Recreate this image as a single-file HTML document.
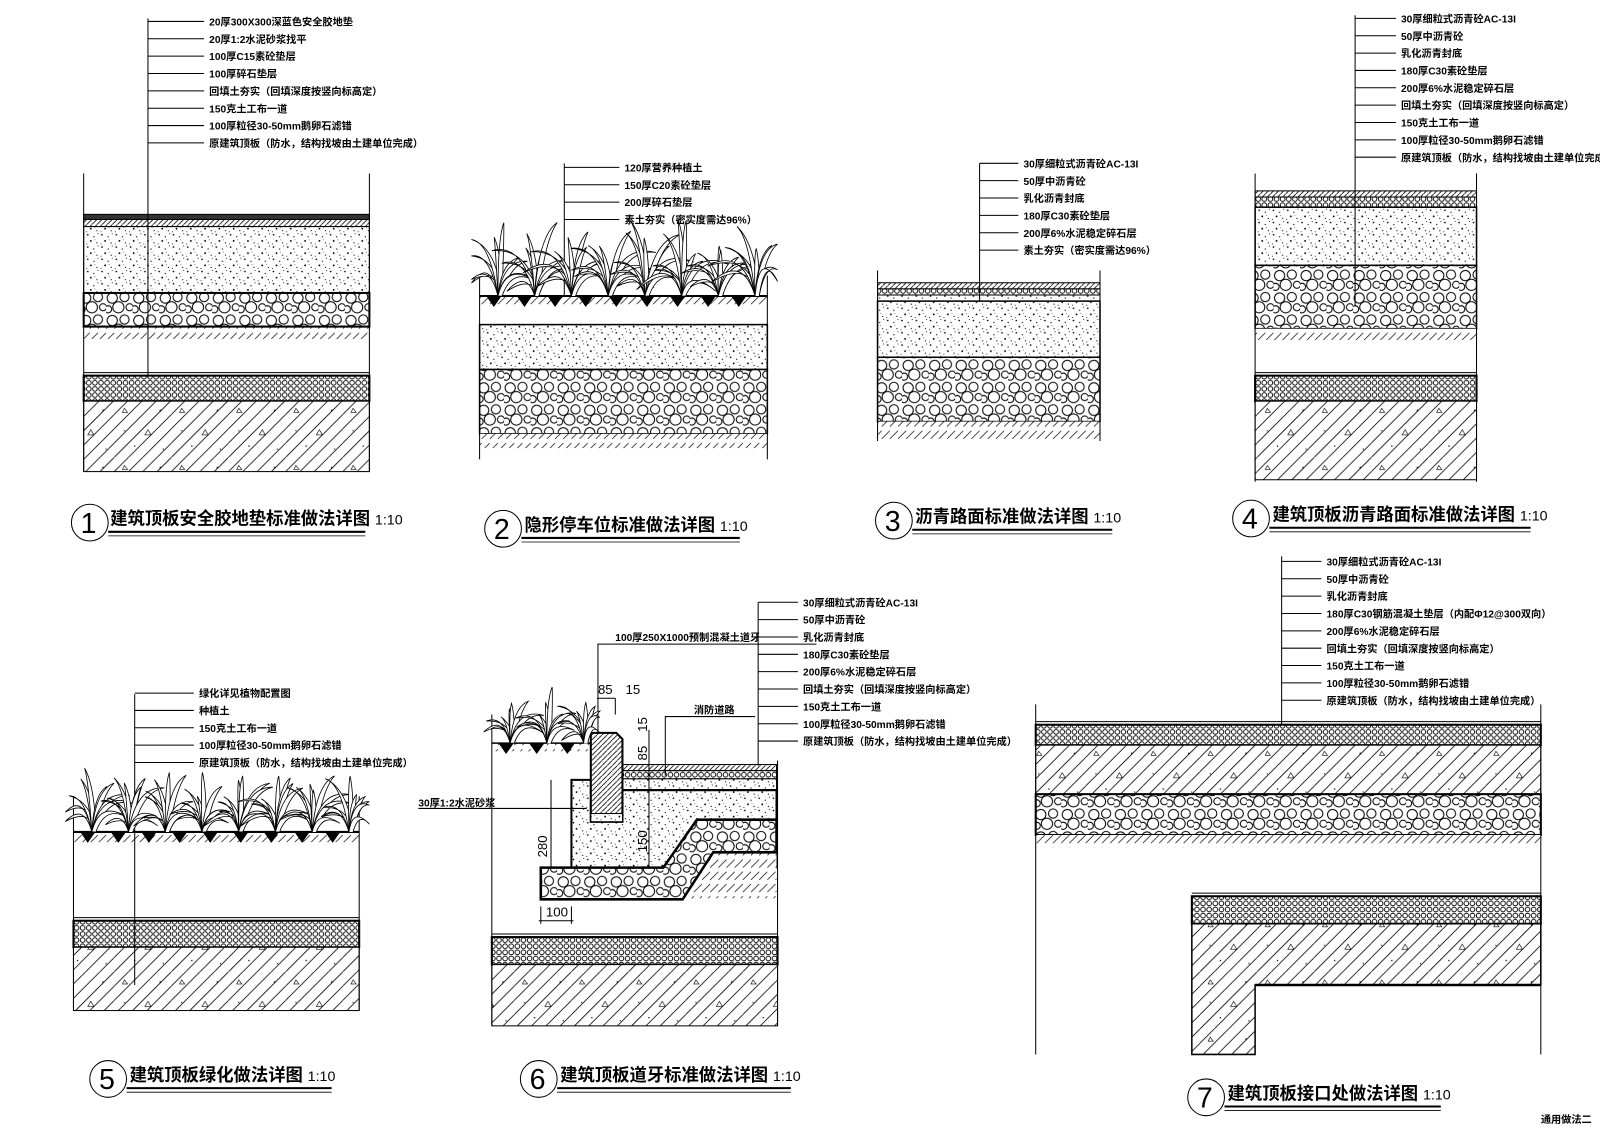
<!DOCTYPE html>
<html><head><meta charset="utf-8"><style>
html,body{margin:0;padding:0;background:#fff;}
svg{display:block}
text{font-family:"Liberation Sans","Noto Sans CJK SC",sans-serif;fill:#000}
.l{font-size:10px;font-weight:bold}
.t{font-size:17px;font-weight:bold}
.s{font-size:13px}
</style></head><body>
<svg id="S" width="1600" height="1131" viewBox="0 0 1568 1108" preserveAspectRatio="none" xmlns="http://www.w3.org/2000/svg">
<defs>
<pattern id="stip" width="14" height="12" patternUnits="userSpaceOnUse">
<rect width="14" height="12" fill="#fff"/>
<circle cx="2" cy="2" r="0.8"/><circle cx="8" cy="4" r="0.6"/><circle cx="5" cy="8" r="0.9"/><circle cx="11" cy="10" r="0.6"/><circle cx="12" cy="1" r="0.5"/><circle cx="1" cy="11" r="0.5"/><circle cx="9" cy="7" r="0.4"/>
</pattern>
<pattern id="grav" width="26" height="22" patternUnits="userSpaceOnUse">
<rect width="26" height="22" fill="#fff"/>
<g fill="none" stroke="#000" stroke-width="1">
<circle cx="6" cy="6" r="5"/><circle cx="18" cy="5" r="4.5"/><circle cx="12" cy="15" r="5.5"/><circle cx="23" cy="15" r="3.5"/><circle cx="2" cy="17" r="3.5"/></g>
</pattern>
<pattern id="cross" width="6" height="6" patternUnits="userSpaceOnUse">
<rect width="6" height="6" fill="#fff"/><circle cx="3" cy="3" r="2.3" fill="none" stroke="#000" stroke-width="0.9"/>
</pattern>
<pattern id="hatch" width="56" height="56" patternUnits="userSpaceOnUse">
<rect width="56" height="56" fill="#fff"/>
<path d="M0 14L14 0M0 28L28 0M0 42L42 0M0 56L56 0M14 56L56 14M28 56L56 28M42 56L56 42" stroke="#000" stroke-width="0.8"/>
<path d="M30 34l3 -5l3 5z" fill="none" stroke="#000" stroke-width="0.6"/>
<path d="M8 12l2 -4l3 4z" fill="none" stroke="#000" stroke-width="0.6"/>
<circle cx="20" cy="45" r="0.7"/><circle cx="45" cy="10" r="0.7"/><circle cx="10" cy="30" r="0.6"/><circle cx="48" cy="48" r="0.6"/>
</pattern>
<pattern id="dhatch" width="5" height="5" patternUnits="userSpaceOnUse">
<rect width="5" height="5" fill="#fff"/><path d="M0 5L5 0" stroke="#000" stroke-width="0.8"/>
</pattern>
<pattern id="soil" width="16" height="12" patternUnits="userSpaceOnUse">
<rect width="16" height="12" fill="#fff"/><path d="M0 10L8 2M8 10L16 2" stroke="#000" stroke-width="0.7"/>
</pattern>
</defs>
<g stroke="#000" fill="none" stroke-width="1">

<!-- DETAIL 1 -->
<rect x="82" y="210" width="280" height="5" fill="#333"/>
<rect x="82" y="215" width="280" height="7" fill="url(#dhatch)"/>
<rect x="82" y="222" width="280" height="65" fill="url(#stip)"/>
<rect x="82" y="287" width="280" height="33" fill="url(#grav)" stroke-width="2"/>
<rect x="82" y="320" width="280" height="12" fill="url(#soil)" stroke="none"/>
<line x1="82" y1="320" x2="362" y2="320" stroke-width="2"/>
<line x1="82" y1="365" x2="362" y2="365"/>
<rect x="82" y="368" width="280" height="25" fill="url(#cross)" stroke-width="2"/>
<rect x="82" y="393" width="280" height="69" fill="url(#hatch)"/>
<line x1="82" y1="170" x2="82" y2="462"/><line x1="362" y1="170" x2="362" y2="462"/>
<line x1="145" y1="18" x2="145" y2="370"/>

<!-- DETAIL 2 -->
<rect x="470" y="290" width="282" height="10" fill="url(#soil)" stroke="none"/>
<line x1="470" y1="290" x2="752" y2="290" stroke-width="2"/>
<rect x="470" y="318" width="282" height="44" fill="url(#stip)" stroke-width="1.5"/>
<rect x="470" y="362" width="282" height="63" fill="url(#grav)" stroke-width="1.5"/>
<rect x="470" y="425" width="282" height="14" fill="url(#soil)" stroke="none"/>
<line x1="470" y1="270" x2="470" y2="450"/><line x1="752" y1="270" x2="752" y2="450"/>
<line x1="553" y1="160" x2="553" y2="290"/>

<!-- DETAIL 3 -->
<rect x="860" y="277" width="218" height="6" fill="url(#dhatch)"/>
<rect x="860" y="283" width="218" height="6" fill="url(#cross)"/>
<rect x="860" y="289" width="218" height="6" fill="url(#stip)"/>
<rect x="860" y="295" width="218" height="55" fill="url(#stip)" stroke-width="1.5"/>
<rect x="860" y="350" width="218" height="63" fill="url(#grav)" stroke-width="1.5"/>
<rect x="860" y="413" width="218" height="17" fill="url(#soil)" stroke="none"/>
<line x1="860" y1="265" x2="860" y2="432"/><line x1="1078" y1="265" x2="1078" y2="432"/>
<line x1="960" y1="160" x2="960" y2="295"/>

<!-- DETAIL 4 -->
<rect x="1230" y="187" width="217" height="6" fill="url(#dhatch)"/>
<rect x="1230" y="193" width="217" height="10" fill="url(#cross)"/>
<rect x="1230" y="203" width="217" height="57" fill="url(#stip)" stroke-width="1.5"/>
<rect x="1230" y="260" width="217" height="62" fill="url(#grav)" stroke-width="1.5"/>
<rect x="1230" y="322" width="217" height="11" fill="url(#soil)" stroke="none"/>
<line x1="1230" y1="365" x2="1447" y2="365"/>
<rect x="1230" y="368" width="217" height="25" fill="url(#cross)" stroke-width="2"/>
<rect x="1230" y="393" width="217" height="77" fill="url(#hatch)"/>
<line x1="1230" y1="170" x2="1230" y2="472"/><line x1="1447" y1="170" x2="1447" y2="472"/>
<line x1="1328" y1="15" x2="1328" y2="300"/>

<!-- DETAIL 5 -->
<rect x="72" y="815" width="280" height="10" fill="url(#soil)" stroke="none"/>
<line x1="72" y1="815" x2="352" y2="815" stroke-width="2"/>
<line x1="72" y1="899" x2="352" y2="899"/>
<rect x="72" y="902" width="280" height="26" fill="url(#cross)" stroke-width="2"/>
<rect x="72" y="928" width="280" height="62" fill="url(#hatch)"/>
<line x1="72" y1="780" x2="72" y2="990"/><line x1="352" y1="780" x2="352" y2="990"/>
<line x1="132" y1="680" x2="132" y2="965"/>

<!-- DETAIL 6 -->
<line x1="482" y1="915" x2="762" y2="915"/>
<rect x="482" y="918" width="280" height="27" fill="url(#cross)" stroke-width="2"/>
<rect x="482" y="945" width="280" height="60" fill="url(#hatch)"/>
<rect x="482" y="728" width="97" height="8" fill="url(#soil)" stroke="none"/>
<line x1="482" y1="728" x2="579" y2="728" stroke-width="1.5"/>
<path d="M560 764H579V805H610V774H761V850H530V881H560Z" fill="url(#stip)" stroke-width="2"/>
<rect x="610" y="749" width="151" height="6" fill="url(#dhatch)"/>
<rect x="610" y="755" width="151" height="8" fill="url(#cross)"/>
<rect x="610" y="763" width="151" height="11" fill="url(#stip)"/>
<line x1="610" y1="774" x2="761" y2="774" stroke-width="2"/>
<path d="M669 881L699 835H761V880H680Z" fill="url(#soil)" stroke="none"/>
<path d="M530 850H650L683 803H761V835H699L669 881H530Z" fill="url(#grav)" stroke-width="2.5"/>
<path d="M579 718H604L610 724V805H579Z" fill="url(#dhatch)" stroke-width="2"/>
<rect x="579" y="797" width="31" height="8" fill="url(#stip)"/>
<line x1="482" y1="700" x2="482" y2="1005"/><line x1="762" y1="745" x2="762" y2="1005"/>
<line x1="743" y1="590" x2="743" y2="750"/>
<path d="M586 718V631H800" /><path d="M652 760V702H740"/>
<line x1="540" y1="764" x2="540" y2="850"/>
<line x1="585" y1="684" x2="603" y2="684"/><line x1="603" y1="684" x2="603" y2="700"/>
<line x1="530" y1="888" x2="530" y2="905"/><line x1="560" y1="888" x2="560" y2="905"/><line x1="528" y1="902" x2="562" y2="902"/>
<line x1="410" y1="792" x2="575" y2="792"/>
<line x1="636" y1="715" x2="636" y2="850"/>

<!-- DETAIL 7 -->
<line x1="1015" y1="707" x2="1510" y2="707"/>
<rect x="1015" y="710" width="495" height="20" fill="url(#cross)" stroke-width="2"/>
<rect x="1015" y="730" width="495" height="48" fill="url(#hatch)"/>
<rect x="1015" y="778" width="495" height="40" fill="url(#grav)" stroke-width="2"/>
<rect x="1015" y="818" width="495" height="12" fill="url(#soil)" stroke="none"/>
<line x1="1168" y1="875" x2="1510" y2="875"/>
<rect x="1168" y="878" width="342" height="27" fill="url(#cross)" stroke-width="2"/>
<path d="M1168 905H1510V965H1230V1033H1168Z" fill="url(#hatch)" stroke-width="1.5"/>
<line x1="1230" y1="965" x2="1510" y2="965" stroke-width="2.5"/>
<line x1="1015" y1="690" x2="1015" y2="1033"/><line x1="1510" y1="690" x2="1510" y2="1033"/>
<line x1="1256" y1="545" x2="1256" y2="710"/>

<!-- title circles -->
<circle cx="88" cy="512" r="18"/><circle cx="493" cy="518" r="18"/><circle cx="876" cy="510" r="18"/><circle cx="1226" cy="508" r="18"/>
<circle cx="106" cy="1057" r="18"/><circle cx="528" cy="1057" r="18"/><circle cx="1182" cy="1075" r="18"/>
<g stroke-width="2">
<line x1="106" y1="521" x2="358" y2="521"/><line x1="511" y1="527" x2="725" y2="527"/><line x1="894" y1="519" x2="1090" y2="519"/><line x1="1244" y1="517" x2="1500" y2="517"/>
<line x1="124" y1="1066" x2="325" y2="1066"/><line x1="546" y1="1066" x2="775" y2="1066"/><line x1="1200" y1="1084" x2="1412" y2="1084"/>
</g>
<g stroke-width="0.8"><line x1="106" y1="525" x2="358" y2="525"/><line x1="511" y1="531" x2="725" y2="531"/><line x1="894" y1="523" x2="1090" y2="523"/><line x1="1244" y1="521" x2="1500" y2="521"/>
<line x1="124" y1="1070" x2="325" y2="1070"/><line x1="546" y1="1070" x2="775" y2="1070"/><line x1="1200" y1="1088" x2="1412" y2="1088"/></g>
<g id="grass" stroke-width="0.8" fill="#fff"></g>
<g id="ticks"></g>
</g>

<!-- labels -->
<g class="l">
<text x="205" y="25">20厚300X300深蓝色安全胶地垫</text>
<text x="205" y="42">20厚1:2水泥砂浆找平</text>
<text x="205" y="59">100厚C15素砼垫层</text>
<text x="205" y="76">100厚碎石垫层</text>
<text x="205" y="93">回填土夯实（回填深度按竖向标高定）</text>
<text x="205" y="110">150克土工布一道</text>
<text x="205" y="127">100厚粒径30-50mm鹅卵石滤错</text>
<text x="205" y="144">原建筑顶板（防水，结构找坡由土建单位完成）</text>

<text x="612" y="168">120厚营养种植土</text>
<text x="612" y="185">150厚C20素砼垫层</text>
<text x="612" y="202">200厚碎石垫层</text>
<text x="612" y="219">素土夯实（密实度需达96%）</text>

<text x="1003" y="164">30厚细粒式沥青砼AC-13I</text>
<text x="1003" y="181">50厚中沥青砼</text>
<text x="1003" y="198">乳化沥青封底</text>
<text x="1003" y="215">180厚C30素砼垫层</text>
<text x="1003" y="232">200厚6%水泥稳定碎石层</text>
<text x="1003" y="249">素土夯实（密实度需达96%）</text>

<text x="1373" y="22">30厚细粒式沥青砼AC-13I</text>
<text x="1373" y="39">50厚中沥青砼</text>
<text x="1373" y="56">乳化沥青封底</text>
<text x="1373" y="73">180厚C30素砼垫层</text>
<text x="1373" y="90">200厚6%水泥稳定碎石层</text>
<text x="1373" y="107">回填土夯实（回填深度按竖向标高定）</text>
<text x="1373" y="124">150克土工布一道</text>
<text x="1373" y="141">100厚粒径30-50mm鹅卵石滤错</text>
<text x="1373" y="158">原建筑顶板（防水，结构找坡由土建单位完成）</text>

<text x="195" y="683">绿化详见植物配置图</text>
<text x="195" y="700">种植土</text>
<text x="195" y="717">150克土工布一道</text>
<text x="195" y="734">100厚粒径30-50mm鹅卵石滤错</text>
<text x="195" y="751">原建筑顶板（防水，结构找坡由土建单位完成）</text>

<text x="787" y="594">30厚细粒式沥青砼AC-13I</text>
<text x="787" y="611">50厚中沥青砼</text>
<text x="787" y="628">乳化沥青封底</text>
<text x="787" y="645">180厚C30素砼垫层</text>
<text x="787" y="662">200厚6%水泥稳定碎石层</text>
<text x="787" y="679">回填土夯实（回填深度按竖向标高定）</text>
<text x="787" y="696">150克土工布一道</text>
<text x="787" y="713">100厚粒径30-50mm鹅卵石滤错</text>
<text x="787" y="730">原建筑顶板（防水，结构找坡由土建单位完成）</text>
<text x="603" y="628">100厚250X1000预制混凝土道牙</text>
<text x="680" y="699">消防道路</text>
<text x="410" y="790">30厚1:2水泥砂浆</text>

<text x="1300" y="554">30厚细粒式沥青砼AC-13I</text>
<text x="1300" y="571">50厚中沥青砼</text>
<text x="1300" y="588">乳化沥青封底</text>
<text x="1300" y="605">180厚C30钢筋混凝土垫层（内配Φ12@300双向）</text>
<text x="1300" y="622">200厚6%水泥稳定碎石层</text>
<text x="1300" y="639">回填土夯实（回填深度按竖向标高定）</text>
<text x="1300" y="656">150克土工布一道</text>
<text x="1300" y="673">100厚粒径30-50mm鹅卵石滤错</text>
<text x="1300" y="690">原建筑顶板（防水，结构找坡由土建单位完成）</text>
<text x="1510" y="1100">通用做法二</text>
</g>
<g class="s">
<text x="586" y="680">85</text><text x="613" y="680">15</text>
<text x="535" y="898">100</text>
<text transform="translate(536,840) rotate(-90)">280</text>
<text transform="translate(634,745) rotate(-90)">85</text>
<text transform="translate(634,717) rotate(-90)">15</text>
<text transform="translate(634,835) rotate(-90)">150</text>
</g>
<g style="font-family:'Liberation Serif',serif;font-size:28px"><text x="79" y="522">1</text><text x="484" y="528">2</text><text x="867" y="520">3</text><text x="1217" y="518">4</text><text x="97" y="1067">5</text><text x="519" y="1067">6</text><text x="1173" y="1085">7</text></g>
<g class="t">
<text x="108" y="514">建筑顶板安全胶地垫标准做法详图 <tspan font-size="14" font-weight="normal">1:10</tspan></text>
<text x="514" y="520">隐形停车位标准做法详图 <tspan font-size="14" font-weight="normal">1:10</tspan></text>
<text x="897" y="512">沥青路面标准做法详图 <tspan font-size="14" font-weight="normal">1:10</tspan></text>
<text x="1247" y="510">建筑顶板沥青路面标准做法详图 <tspan font-size="14" font-weight="normal">1:10</tspan></text>
<text x="127" y="1059">建筑顶板绿化做法详图 <tspan font-size="14" font-weight="normal">1:10</tspan></text>
<text x="549" y="1059">建筑顶板道牙标准做法详图 <tspan font-size="14" font-weight="normal">1:10</tspan></text>
<text x="1203" y="1077">建筑顶板接口处做法详图 <tspan font-size="14" font-weight="normal">1:10</tspan></text>
</g>
</svg>
<script>
var NS="http://www.w3.org/2000/svg";
function el(p,t,a){var e=document.createElementNS(NS,t);for(var k in a)e.setAttribute(k,a[k]);p.appendChild(e);return e;}
var g=document.getElementById("grass");
var s=7;function rnd(){s=(s*9301+49297)%233280;return s/233280;}
function grass(x0,x1,y,h){
  for(var c=x0+18;c<x1;c+=36){
    var n=10;
    for(var i=0;i<n;i++){
      var a=(i/(n-1)-0.5)*2.6+(rnd()-0.5)*0.4;
      var hh=h*(0.55+0.45*rnd())*(1-Math.abs(a)*0.2);
      var tx=c+Math.sin(a)*hh*0.85, ty=y-Math.cos(a)*hh*0.95;
      if(tx<x0-10)tx=x0-10; if(tx>x1+10)tx=x1+10;
      var mx=c+(tx-c)*0.25, my=y-hh*0.75;
      el(g,"path",{d:"M"+(c-2)+" "+y+"Q"+(mx-3)+" "+my+" "+tx+" "+ty+"Q"+(mx+3)+" "+(my+5)+" "+(c+2)+" "+y});
    }
  }
  for(var x=x0+12;x<x1;x+=30){el(g,"path",{d:"M"+(x-7)+" "+y+"L"+x+" "+(y+10)+"L"+(x+7)+" "+y+"Z",fill:"#000"});}
}
grass(472,752,290,85);grass(74,352,815,70);grass(484,578,728,60);
var t=document.getElementById("ticks");
function ticks(x0,x1,y0,n,st){for(var i=0;i<n;i++){var y=y0+i*st;el(t,"line",{x1:x0,y1:y,x2:x1,y2:y});}}
ticks(145,200,21,8,17);ticks(553,607,164,4,17);ticks(960,998,160,6,17);ticks(1328,1368,18,9,17);
ticks(132,190,679,5,17);ticks(743,782,590,9,17);ticks(1256,1295,550,9,17);
</script>
</body></html>
